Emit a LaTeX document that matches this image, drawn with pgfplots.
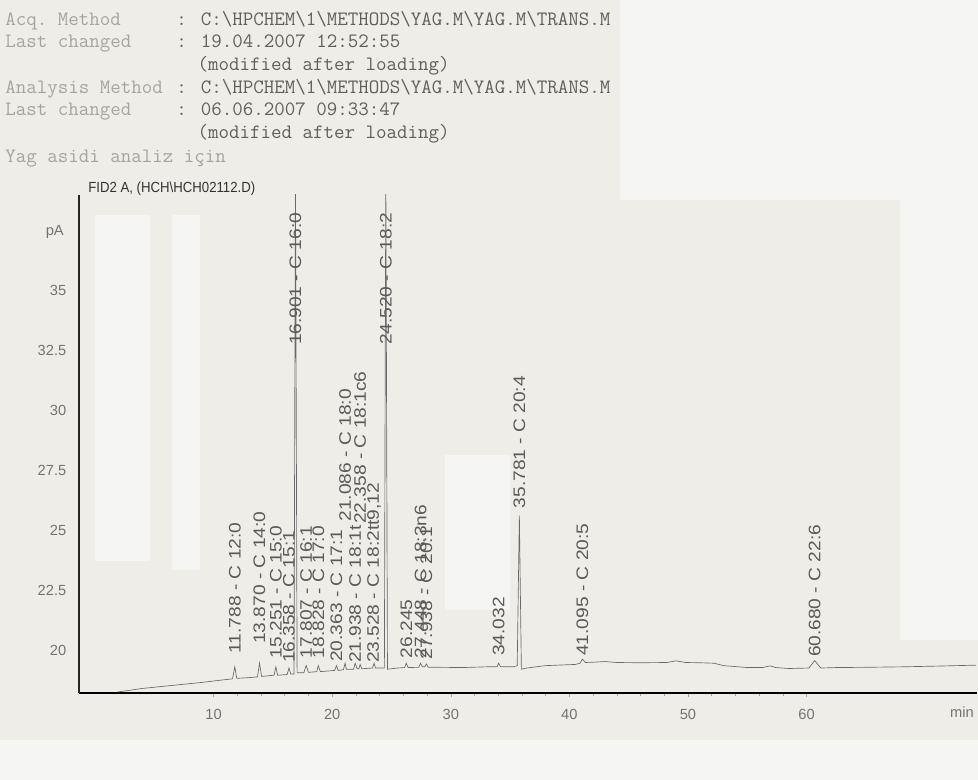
\documentclass[border=0pt]{standalone}
\usepackage{fontspec}
\setmainfont{Liberation Sans}
\usepackage{graphicx}
\usepackage{pgfplots}
\pgfplotsset{compat=1.18}
\definecolor{bg}{RGB}{239,237,232}
\definecolor{patch}{RGB}{245,245,243}
\definecolor{trace}{RGB}{105,105,105}
\definecolor{lbl}{RGB}{90,90,90}
\definecolor{hdrlab}{RGB}{165,165,160}
\definecolor{hdrval}{RGB}{95,95,92}
\definecolor{tickc}{RGB}{115,115,115}

\newcommand{\pk}[3]{\node[rotate=90, anchor=west, inner sep=0pt, text=lbl, font=\fontsize{12.5}{14}\selectfont] at (axis cs:#1,#2) {\scalebox{1.15}[1]{#3}};}

\begin{document}
\begin{tikzpicture}
% background (scan paper)
\fill[bg] (0,0) rectangle (733.5pt,585pt);
\fill[patch] (71.25pt,164pt) rectangle (112.5pt,423.75pt);
\fill[patch] (129pt,157.5pt) rectangle (150pt,423.75pt);
\fill[patch] (333.75pt,127.5pt) rectangle (382.5pt,243.75pt);
\fill[patch] (465pt,435pt) rectangle (733.5pt,585pt);
\fill[patch] (675pt,105pt) rectangle (733.5pt,435pt);
\fill[patch] (0pt,0pt) rectangle (733.5pt,30pt);

% header block
\begin{scope}[font=\ttfamily\fontsize{15.3}{18}\selectfont]
\node[anchor=base west, inner sep=0pt, text=hdrlab] at (3.75pt,566pt) {Acq.\ Method};
\node[anchor=base west, inner sep=0pt, text=hdrval] at (132pt,566pt) {: C:\textbackslash HPCHEM\textbackslash 1\textbackslash METHODS\textbackslash YAG.M\textbackslash YAG.M\textbackslash TRANS.M};
\node[anchor=base west, inner sep=0pt, text=hdrlab] at (3.75pt,549pt) {Last changed};
\node[anchor=base west, inner sep=0pt, text=hdrval] at (132pt,549pt) {: 19.04.2007 12:52:55};
\node[anchor=base west, inner sep=0pt, text=hdrval] at (148pt,532pt) {(modified after loading)};
\node[anchor=base west, inner sep=0pt, text=hdrlab] at (3.75pt,515pt) {Analysis Method};
\node[anchor=base west, inner sep=0pt, text=hdrval] at (132pt,515pt) {: C:\textbackslash HPCHEM\textbackslash 1\textbackslash METHODS\textbackslash YAG.M\textbackslash YAG.M\textbackslash TRANS.M};
\node[anchor=base west, inner sep=0pt, text=hdrlab] at (3.75pt,498pt) {Last changed};
\node[anchor=base west, inner sep=0pt, text=hdrval] at (132pt,498pt) {: 06.06.2007 09:33:47};
\node[anchor=base west, inner sep=0pt, text=hdrval] at (148pt,481pt) {(modified after loading)};
\node[anchor=base west, inner sep=0pt, text=hdrlab] at (3.75pt,463pt) {Yag asidi analiz için};
\end{scope}
\node[anchor=base west, inner sep=0pt, text=black!80, font=\fontsize{11}{13}\selectfont] at (66pt,440.25pt) {\scalebox{0.9}[1]{FID2 A, (HCH\textbackslash HCH02112.D)}};

\begin{axis}[
  at={(59.25pt,65.25pt)}, anchor=south west,
  scale only axis, width=673.5pt, height=373.5pt,
  xmin=-1.35, xmax=74.37, ymin=18.21, ymax=38.96,
  axis x line=bottom, axis y line=left,
  axis line style={-},
  x axis line style={black, line width=1.1pt},
  y axis line style={black!85, line width=0.9pt},
  xtick={10,20,30,40,50,60},
  xticklabels={10,20,30,40,50,60},
  minor x tick num=4,
  ytick={20,22.5,25,27.5,30,32.5,35},
  yticklabels={20,22.5,25,27.5,30,32.5,35},
  tick align=outside,
  major tick length=3pt, minor tick length=2pt,
  x tick style={black!35, line width=0.4pt},
  y tick style={draw=none},
  ticklabel style={font=\fontsize{11}{13}\selectfont, text=tickc},
  xticklabel style={yshift=-6pt},
  yticklabel style={xshift=-3pt},
  clip=true,
]
\addplot[trace, line width=0.5pt] coordinates {
(1.9,18.25) (4,18.4) (7,18.55) (9,18.65) (10.7,18.75) (11.6,18.8)
(11.788,19.3) (11.95,18.82) (13.0,18.85) (13.7,18.88) (13.87,19.45) (14.05,18.9)
(15.1,18.95) (15.251,19.3) (15.4,18.95) (16.2,18.98) (16.358,19.25) (16.5,19.0)
(16.78,19.0) (16.901,40.0) (17.04,19.05) (17.6,19.05) (17.807,19.35) (18.0,19.07)
(18.7,19.1) (18.828,19.35) (19.0,19.1) (20.2,19.15) (20.363,19.35) (20.5,19.15)
(20.95,19.18) (21.086,19.45) (21.2,19.2) (21.8,19.2) (21.938,19.45) (22.1,19.22)
(22.25,19.22) (22.358,19.4) (22.5,19.22) (23.4,19.25) (23.528,19.45) (23.65,19.25)
(24.4,19.25) (24.52,40.0) (24.66,19.2) (25.5,19.25) (26.1,19.27) (26.245,19.45)
(26.4,19.27) (27.3,19.28) (27.448,19.45) (27.6,19.3) (27.8,19.3) (27.938,19.42)
(28.1,19.28) (29,19.28) (31,19.27) (33,19.3) (33.9,19.3) (34.032,19.45) (34.2,19.3)
(35.3,19.3) (35.6,19.35) (35.781,25.6) (35.95,19.2) (36.4,19.25) (38,19.35)
(40.5,19.4) (40.9,19.45) (41.095,19.62) (41.35,19.48) (42.3,19.5) (43,19.52)
(44,19.48) (46,19.47) (48.2,19.48) (49,19.55) (49.8,19.48) (51,19.47) (52.2,19.45)
(53,19.35) (55,19.27) (56.3,19.27) (56.9,19.34) (57.4,19.27) (58.5,19.23)
(60.2,19.25) (60.68,19.56) (61.2,19.25) (62.5,19.27) (65,19.28) (68,19.3)
(71,19.33) (74.3,19.37)
};
\pk{11.788}{19.85}{11.788 - C 12:0}
\pk{13.870}{20.25}{13.870 - C 14:0}
\pk{15.251}{19.65}{15.251 - C 15:0}
\pk{16.358}{19.45}{16.358 - C 15:1}
\pk{16.901}{32.7}{16.901 - C 16:0}
\pk{17.807}{19.65}{17.807 - C 16:1}
\pk{18.828}{19.65}{18.828 - C 17:0}
\pk{20.363}{19.5}{20.363 - C 17:1}
\pk{21.086}{25.35}{21.086 - C 18:0}
\pk{21.938}{19.45}{21.938 - C 18:1t}
\pk{22.358}{25.25}{22.358 - C 18:1c6}
\pk{23.528}{19.45}{23.528 - C 18:2tt9,12}
\pk{24.520}{32.7}{24.520 - C 18:2}
\pk{26.245}{19.65}{26.245}
\pk{27.448}{19.65}{27.448 - C 18:3n6}
\pk{27.938}{19.6}{27.938 - C 20:1}
\pk{34.032}{19.75}{34.032}
\pk{35.781}{25.9}{35.781 - C 20:4}
\pk{41.095}{19.75}{41.095 - C 20:5}
\pk{60.680}{19.7}{60.680 - C 22:6}
\end{axis}
% axis-side texts
\node[anchor=east, inner sep=0pt, text=tickc, font=\fontsize{11}{13}\selectfont] at (48pt,411pt) {pA};
\node[anchor=center, inner sep=0pt, text=tickc, font=\fontsize{11}{13}\selectfont] at (721.5pt,51pt) {min};
\end{tikzpicture}
\end{document}
